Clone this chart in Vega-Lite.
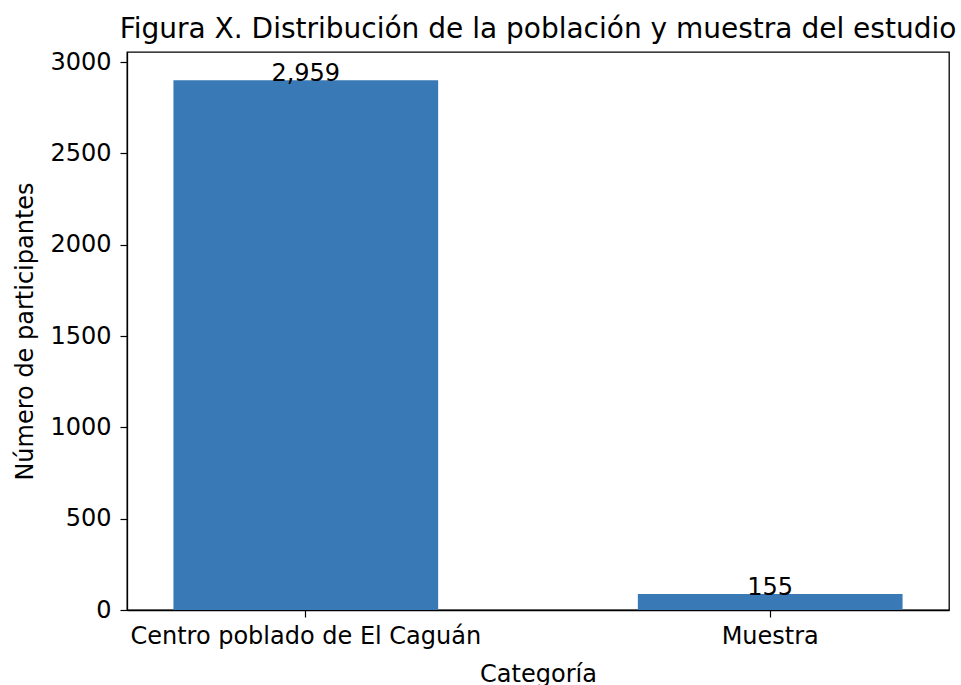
{
  "$schema": "https://vega.github.io/schema/vega-lite/v6.json",
  "width": 822,
  "height": 558,
  "autosize": {"type": "none"},
  "padding": {"left": 127, "top": 52, "right": 12, "bottom": 75},
  "background": "white",
  "config": {
    "font": "DejaVu Sans",
    "view": {"stroke": "black", "strokeWidth": 1.3},
    "axis": {
      "domainColor": "black",
      "domainWidth": 1.3,
      "tickColor": "black",
      "tickWidth": 1.2,
      "tickSize": 7,
      "labelColor": "black",
      "labelFont": "DejaVu Sans",
      "labelFontSize": 24,
      "labelLimit": 0,
      "titleFont": "DejaVu Sans",
      "titleFontSize": 24,
      "titleFontWeight": "normal",
      "titleColor": "black",
      "grid": false
    }
  },
  "title": {
    "text": "Figura X. Distribución de la población y muestra del estudio",
    "font": "DejaVu Sans",
    "fontSize": 28,
    "fontWeight": "normal",
    "color": "black",
    "anchor": "middle",
    "baseline": "bottom",
    "offset": 9,
    "dy": 31
  },
  "data": {
    "values": [
      {"categoria": "Centro poblado de El Caguán", "valor": 2900, "etiqueta": "2,959"},
      {"categoria": "Muestra", "valor": 88, "etiqueta": "155"}
    ]
  },
  "encoding": {
    "x": {
      "field": "categoria",
      "type": "nominal",
      "sort": null,
      "title": "Categoría",
      "scale": {"paddingInner": 0.43, "paddingOuter": 0.1},
      "axis": {"labelAngle": 0, "labelPadding": 7, "titlePadding": 14}
    },
    "y": {
      "field": "valor",
      "type": "quantitative",
      "title": "Número de participantes",
      "scale": {"domain": [0, 3055], "nice": false},
      "axis": {"values": [0, 500, 1000, 1500, 2000, 2500, 3000], "format": "d", "labelPadding": 9, "titlePadding": 12, "labelFlush": false}
    }
  },
  "layer": [
    {"mark": {"type": "bar", "color": "#3979b5"}},
    {
      "mark": {"type": "text", "baseline": "alphabetic", "align": "center", "fontSize": 24, "color": "black", "dy": 1},
      "encoding": {"text": {"field": "etiqueta"}}
    }
  ]
}
